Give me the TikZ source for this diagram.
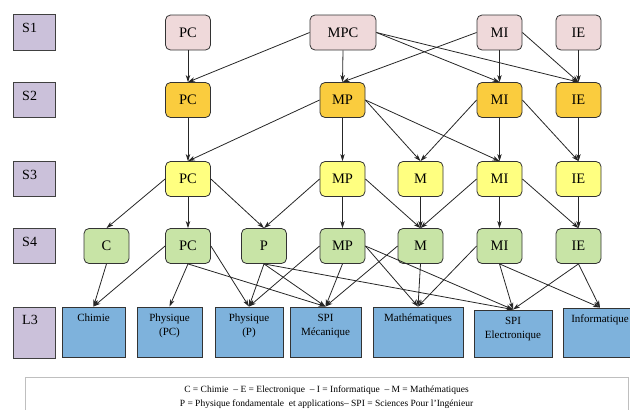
\documentclass[tikz,border=0pt]{standalone}
\usepackage{fontspec}
\setmainfont{Liberation Serif}
\usetikzlibrary{arrows.meta}

\definecolor{semcol}{RGB}{203,193,218}
\definecolor{sonecol}{RGB}{239,217,218}
\definecolor{stwocol}{RGB}{250,204,62}
\definecolor{sthreecol}{RGB}{255,255,128}
\definecolor{sfourcol}{RGB}{200,228,166}
\definecolor{lthreecol}{RGB}{126,178,220}

\tikzset{
  sem/.style={draw=black!75, line width=0.9pt, fill=semcol, minimum width=42pt, minimum height=35pt, inner sep=0pt},
  semlbl/.style={anchor=north west, inner sep=0pt, xshift=9.5pt, yshift=-9.5pt, font=\fontsize{14}{16}\selectfont},
  ue/.style={draw=black!80, line width=0.8pt, rounded corners=5pt, minimum width=45pt, minimum height=35pt, inner sep=0pt, font=\fontsize{14.5}{16}\selectfont},
  lic/.style={draw=black!80, line width=0.9pt, fill=lthreecol, minimum height=50pt, inner sep=0pt},
  lictxt/.style={anchor=north, align=center, inner sep=0pt, yshift=-7.5pt, font=\fontsize{11}{13.5}\selectfont},
  arr/.style={-{Stealth[length=7pt,width=4.5pt,inset=2pt]}, line width=0.8pt, black!85}
}

\begin{document}
\begin{tikzpicture}[x=1pt,y=1pt]
    \useasboundingbox (0,0) rectangle (630,-410);
    % semestres
    \node[sem, minimum height=36pt, label={[semlbl]north west:S1}] (sem1) at (34,-32) {};
    \node[sem, label={[semlbl]north west:S2}] (sem2) at (34,-99.5) {};
    \node[sem, label={[semlbl]north west:S3}] (sem3) at (34,-178.5) {};
    \node[sem, label={[semlbl]north west:S4}] (sem4) at (34,-245.5) {};
    \node[sem, minimum height=51pt, label={[semlbl, yshift=1.5pt]north west:L3}] (semL3) at (34,-332.5) {};
    % S1
    \node[ue, fill=sonecol] (s1pc) at (188,-32.5) {PC};
    \node[ue, fill=sonecol, minimum width=66pt] (s1mpc) at (343,-32.5) {MPC};
    \node[ue, fill=sonecol] (s1mi) at (499.5,-32.5) {MI};
    \node[ue, fill=sonecol] (s1ie) at (578.5,-32.5) {IE};
    % S2
    \node[ue, fill=stwocol] (s2pc) at (188,-100) {PC};
    \node[ue, fill=stwocol] (s2mp) at (342.5,-100) {MP};
    \node[ue, fill=stwocol] (s2mi) at (499.5,-100) {MI};
    \node[ue, fill=stwocol] (s2ie) at (578.5,-100) {IE};
    % S3
    \node[ue, fill=sthreecol] (s3pc) at (188,-179) {PC};
    \node[ue, fill=sthreecol] (s3mp) at (342.5,-179) {MP};
    \node[ue, fill=sthreecol] (s3m) at (420.5,-179) {M};
    \node[ue, fill=sthreecol] (s3mi) at (499.5,-179) {MI};
    \node[ue, fill=sthreecol] (s3ie) at (578.5,-179) {IE};
    % S4
    \node[ue, fill=sfourcol] (s4c) at (106.5,-246) {C};
    \node[ue, fill=sfourcol] (s4pc) at (188,-246) {PC};
    \node[ue, fill=sfourcol] (s4p) at (264,-246) {P};
    \node[ue, fill=sfourcol] (s4mp) at (342.5,-246) {MP};
    \node[ue, fill=sfourcol] (s4m) at (420.5,-246) {M};
    \node[ue, fill=sfourcol] (s4mi) at (499.5,-246) {MI};
    \node[ue, fill=sfourcol] (s4ie) at (578.5,-246) {IE};
    % L3
    \node[lic, minimum width=63pt, label={[lictxt]north:Chimie}] (l3chim) at (93.5,-332) {};
    \node[lic, minimum width=65pt, label={[lictxt]north:Physique\\(PC)}] (l3phpc) at (169.5,-332) {};
    \node[lic, minimum width=68pt, label={[lictxt]north:Physique\\(P)}] (l3php) at (249,-332) {};
    \node[lic, minimum width=71pt, label={[lictxt]north:SPI\\Mécanique}] (l3spim) at (325.5,-332) {};
    \node[lic, minimum width=90pt, label={[lictxt]north:Mathématiques}] (l3math) at (418,-332) {};
    \node[lic, minimum width=78pt, minimum height=47pt, label={[lictxt]north:SPI\\Electronique}] (l3spie) at (513,-333.5) {};
    \node[lic, minimum width=74pt, minimum height=49pt, label={[lictxt]north:Informatique}] (l3info) at (600,-332.5) {};
    % fleches
    \foreach \a/\b in {s1pc.south/s2pc, s1mpc.west/s2pc, s1mpc.south/s2mp, s1mpc.east/s2mi,
        s1mpc.east/s2ie, s1mi.west/s2mp, s1mi.south/s2mi, s1mi.east/s2ie, s1ie.south/s2ie}
    \draw[arr] (\a) -- (\b.north);
    \foreach \a/\b in {s2pc.south/s3pc, s2mp.west/s3pc, s2mp.south/s3mp, s2mp.east/s3m,
        s2mp.east/s3mi, s2mi.west/s3m, s2mi.south/s3mi, s2mi.east/s3ie, s2ie.south/s3ie}
    \draw[arr] (\a) -- (\b.north);
    \foreach \a/\b in {s3pc.west/s4c, s3pc.south/s4pc, s3pc.east/s4p, s3mp.west/s4p,
        s3mp.south/s4mp, s3mp.east/s4m, s3m.south/s4m, s3mi.west/s4m, s3mi.south/s4mi,
        s3mi.east/s4ie, s3ie.south/s4ie}
    \draw[arr] (\a) -- (\b.north);
    \foreach \a/\b in {s4c.south/l3chim, s4pc.west/l3chim, s4pc.south/l3phpc, s4pc.east/l3php,
        s4pc.south/l3spim, s4p.south/l3php, s4p.south/l3spim, s4p.south/l3spie,
        s4mp.west/l3php, s4mp.south/l3spim, s4mp.east/l3math, s4mp.east/l3spie,
        s4m.west/l3spim, s4m.south/l3math, s4mi.west/l3math, s4mi.south/l3spie,
        s4mi.south/l3info, s4ie.south/l3spie, s4ie.south/l3info}
    \draw[arr] (\a) -- (\b.north);
    % legende
    \node[draw=black!25, line width=0.8pt, anchor=north, minimum width=603pt, minimum height=40pt,
        align=center, font=\fontsize{9.5}{13.5}\selectfont] (legende) at (326.5,-377)
        {C = Chimie \ – E = Electronique \ – I = Informatique \ – M = Mathématiques\\
         P = Physique fondamentale \ et applications– SPI = Sciences Pour l’Ingénieur};
\end{tikzpicture}
\end{document}
